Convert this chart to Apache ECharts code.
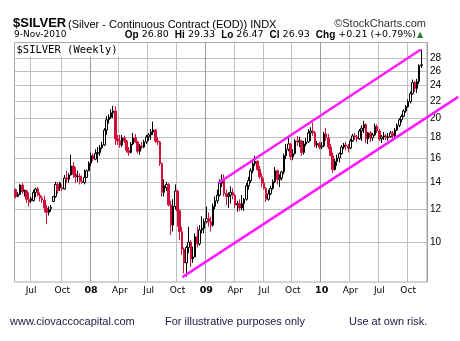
<!DOCTYPE html>
<html><head><meta charset="utf-8">
<script src="https://cdn.jsdelivr.net/npm/echarts@6/dist/echarts.min.js"></script>
<style>html,body{margin:0;padding:0;background:#fff}#c{width:460px;height:341px}</style>
</head><body><div id="c"></div>
<script>
// ---- data (weekly bars, week starting Monday) ----
const firstWeek = [2007, 4, 7];   // 7 May 2007
const weekCount = 186;            // 184 bars + 2 empty weeks of right padding
const open = [
13.40,12.90,13.05,13.75,13.35,13.30,12.70,12.75,12.60,13.20,13.45,13.00,12.80,12.65,12.10,11.80,12.05,12.55,12.90,13.80,
13.90,13.55,13.45,14.30,14.20,14.55,15.30,14.60,14.40,14.45,14.05,13.95,14.35,14.90,15.55,16.20,15.90,16.40,16.50,16.95,
17.20,18.70,19.80,20.10,20.60,20.80,17.80,17.60,17.20,17.90,17.60,16.70,16.50,17.30,17.90,17.50,16.60,17.10,17.00,17.50,
18.00,18.20,18.50,18.70,17.60,17.50,15.50,13.20,13.55,13.80,12.30,11.00,12.20,13.30,11.90,10.60,9.60,8.90,9.70,10.00,
9.10,9.20,10.30,9.90,10.70,10.80,11.20,11.40,11.20,11.00,12.20,12.60,13.00,13.90,14.20,13.10,12.90,13.00,13.20,13.00,
12.30,12.40,12.10,12.40,12.70,13.70,14.10,14.90,15.50,15.70,15.00,14.40,13.90,13.50,12.70,13.10,13.50,14.00,14.90,14.20,
14.30,14.80,16.20,16.80,17.30,16.10,16.40,17.60,17.50,17.60,16.50,17.30,17.50,18.40,18.60,18.40,17.20,17.35,17.00,17.10,
18.30,17.90,17.00,16.20,15.00,15.70,16.00,16.40,17.00,17.20,17.10,16.90,17.60,18.10,18.00,17.80,18.60,18.90,19.30,17.80,
18.40,17.90,18.20,19.10,18.60,17.80,18.00,18.10,17.90,18.00,18.40,18.10,18.70,19.20,19.80,20.20,20.80,21.30,21.90,22.90,
24.40,23.60,24.50,26.80];
const high = [
13.50,13.20,13.85,13.90,13.40,13.40,13.20,12.90,13.40,13.55,13.60,13.20,12.95,12.95,12.30,12.20,12.30,12.95,14.00,14.00,
14.00,13.80,14.55,14.90,14.70,16.30,15.65,15.20,14.90,14.70,14.50,15.00,15.00,15.70,16.50,16.40,16.80,17.00,17.20,17.50,
18.90,20.20,20.40,21.00,21.40,21.35,18.20,18.20,18.20,18.10,17.70,17.00,17.50,18.40,18.30,17.60,17.30,17.50,17.70,18.20,
18.40,18.80,19.60,18.80,18.00,17.60,15.60,14.20,14.00,13.90,12.60,12.70,13.80,13.40,12.00,10.90,9.70,9.80,10.90,10.10,
9.75,10.50,10.90,11.00,11.55,11.40,12.20,11.80,11.50,12.40,12.90,13.40,14.20,14.60,14.60,13.40,13.20,13.65,13.50,13.10,
12.60,12.70,13.00,12.80,13.90,14.40,15.10,15.70,16.20,15.80,15.30,14.70,14.30,13.60,13.40,13.70,14.20,15.20,15.00,14.60,
14.90,16.40,17.30,17.90,17.40,16.80,17.80,18.10,18.00,17.70,17.60,17.90,18.80,19.00,19.50,18.60,17.60,17.50,17.50,18.50,
18.90,18.30,17.30,16.50,15.90,16.30,16.50,17.20,17.40,17.50,17.30,17.80,18.30,18.40,18.20,18.80,19.20,19.70,19.40,18.50,
18.60,18.40,19.40,19.30,18.80,18.20,18.50,18.30,18.40,18.60,18.60,18.90,19.40,20.00,20.40,21.00,21.50,22.20,23.20,24.80,
24.60,24.90,27.00,29.33];
const low = [
12.75,12.85,13.00,13.10,12.90,12.45,12.20,12.45,12.55,12.85,12.90,12.55,12.45,11.80,11.05,11.60,11.85,12.50,12.80,13.10,
13.30,13.30,13.40,13.90,13.95,14.50,14.30,13.90,14.00,13.80,13.85,13.80,14.30,14.85,15.30,15.70,15.80,15.60,16.20,16.80,
17.10,18.20,19.40,19.90,20.00,17.20,17.20,16.95,17.00,17.40,16.50,16.20,16.40,17.20,17.40,16.40,16.30,16.80,16.90,17.30,
17.60,17.70,18.20,17.40,17.20,15.30,12.90,12.90,13.30,12.20,10.40,10.60,12.00,10.90,10.10,9.30,8.40,8.25,9.40,8.70,
8.90,9.20,9.70,9.80,10.50,10.50,11.10,10.90,10.60,10.90,12.00,12.40,12.90,13.60,12.90,12.30,12.10,12.40,12.70,12.10,
11.85,11.90,11.95,11.90,12.60,13.40,13.90,14.70,15.30,14.90,14.20,13.60,13.40,12.50,12.60,13.00,13.40,13.90,13.80,13.60,
14.10,14.60,15.90,16.60,15.80,15.80,16.30,17.10,17.00,16.20,16.30,17.10,17.40,17.60,18.10,17.00,16.90,16.80,16.80,17.00,
17.60,16.80,16.20,14.70,14.90,15.30,15.60,16.30,16.80,16.70,16.50,16.80,17.50,17.70,17.50,17.70,17.60,18.40,17.40,17.30,
17.50,17.60,18.10,18.40,17.60,17.40,17.70,17.70,17.60,17.90,17.90,18.00,18.60,19.00,19.50,20.10,20.60,21.20,21.70,22.80,
23.10,23.00,24.20,26.47];
const close = [
12.90,13.05,13.75,13.25,13.30,12.70,12.50,12.60,13.20,13.45,13.00,12.80,12.65,12.10,11.80,12.00,12.15,12.90,13.80,13.35,
13.55,13.45,14.30,14.20,14.55,15.30,14.60,14.40,14.45,14.05,13.95,14.35,14.90,15.55,16.20,15.90,16.40,16.50,16.95,17.20,
18.70,19.80,20.10,20.60,20.80,17.80,17.60,17.20,17.90,17.60,16.70,16.50,17.30,17.90,17.50,16.60,17.10,17.00,17.50,18.00,
18.20,18.50,18.70,17.60,17.50,15.50,13.20,13.70,13.80,12.30,11.00,12.20,13.30,11.90,10.60,9.60,8.90,9.70,10.00,9.10,
9.20,10.30,9.90,10.70,10.80,11.20,11.40,11.20,11.00,12.20,12.60,13.00,13.90,14.20,13.10,12.90,13.00,13.20,13.00,12.30,
12.40,12.10,12.40,12.70,13.70,14.10,14.90,15.50,15.70,15.00,14.40,13.90,13.50,12.70,13.10,13.50,14.00,14.90,14.20,14.30,
14.80,16.20,16.80,17.30,16.10,16.40,17.60,17.50,17.60,16.50,17.30,17.50,18.40,18.60,18.40,17.20,17.35,17.00,17.10,18.30,
17.90,17.00,16.20,15.00,15.70,16.00,16.40,17.00,17.20,17.10,16.90,17.60,18.10,18.00,17.80,18.60,18.90,19.30,17.80,18.40,
17.90,18.20,19.10,18.60,17.80,18.00,18.10,17.90,18.00,18.40,18.10,18.70,19.20,19.80,20.20,20.80,21.30,21.90,22.90,24.40,
23.60,24.50,26.80,26.93];
const yTicks = [10, 12, 14, 16, 18, 20, 22, 24, 26, 28];
const xTickLabels = ['Jul','Oct','08','Apr','Jul','Oct','09','Apr','Jul','Oct','10','Apr','Jul','Oct'];
// channel lines: [week index, price] at each end
const upperChannel = [[91.4, 13.91], [182.7, 29.33]];
const lowerChannel = [[75.2, 8.22], [199.6, 22.51]];

// ---- categories: weekly dates ----
const weeks = [];
const t0 = Date.UTC(firstWeek[0], firstWeek[1], firstWeek[2]);
for (let i = 0; i < weekCount; i++) weeks.push(new Date(t0 + i * 7 * 86400000).toISOString().slice(0, 10));
const quarterLabel = {};
let qk = 0;
weeks.forEach((w, i) => {
  const d0 = Date.parse(w + 'T00:00:00Z');
  for (let k = 0; k < 7; k++) {
    const d = new Date(d0 + k * 86400000);
    if (d.getUTCDate() === 1 && d.getUTCMonth() % 3 === 0) { quarterLabel[i] = xTickLabels[qk++]; break; }
  }
});
const isQ = (i) => quarterLabel[i] !== undefined;
const isYear = (i) => isQ(i) && /^\d/.test(quarterLabel[i]);

const RED = '#d0103a', BLACK = '#000000';
const candles = open.map((o, i) => {
  const prev = i ? close[i - 1] : o;
  const col = close[i] < prev ? RED : BLACK;
  const fill = close[i] > o ? '#ffffff' : col;
  return { value: [o, close[i], low[i], high[i]],
    itemStyle: { color: fill, color0: fill, borderColor: col, borderColor0: col } };
});

const W = 460;
const GL = 14.5, GT = 42.5, GW = 412.5, GH = 239.5;
const OW = W - GL;                               // overlay grid runs to the page edge
const overlayMax = -0.5 + OW * weekCount / GW;   // same px-per-week as the price grid
const YMIN = 8, YMAX = 30.5;
const chart = echarts.init(document.getElementById('c'), null, { renderer: 'canvas' });
const F = 'Liberation Sans, Arial, sans-serif';
const V = 'DejaVu Sans, Verdana, sans-serif';
const GRIDC = '#c0c0c0';
chart.setOption({
  animation: false,
  backgroundColor: '#ffffff',
  grid: [
    { left: GL, top: GT, width: GW, height: GH, show: true, borderColor: '#a8a8a8', borderWidth: 1 },
    { left: GL, top: GT, width: OW, height: GH, show: false }
  ],
  xAxis: [{
    type: 'category', data: weeks, boundaryGap: true, gridIndex: 0, position: 'bottom',
    axisLine: { show: false },
    axisTick: { show: false, interval: isQ },
    axisLabel: {
      interval: isQ, margin: 4, fontSize: 9, fontFamily: V, color: '#000',
      formatter: (v, i) => { const l = quarterLabel[i] || ''; return /^\d/.test(l) ? '{b|' + l + '}' : l; },
      rich: { b: { fontWeight: 'bold', fontSize: 9.5, fontFamily: V, color: '#000' } }
    },
    splitLine: { show: true, interval: (i) => isQ(i) && !isYear(i), lineStyle: { color: GRIDC, width: 1 } }
  }, {
    type: 'value', gridIndex: 1, min: -0.5, max: overlayMax, show: false
  }, {
    // year separators (darker)
    type: 'category', data: weeks, boundaryGap: true, gridIndex: 0, position: 'top',
    axisLine: { show: false }, axisTick: { show: false }, axisLabel: { show: false },
    splitLine: { show: true, interval: isYear, lineStyle: { color: '#9c9c9c', width: 1 } }
  }],
  yAxis: [{
    type: 'log', logBase: 10, min: YMIN, max: YMAX, position: 'right', gridIndex: 0,
    axisLine: { show: false },
    axisTick: { show: false, customValues: yTicks },
    axisLabel: { customValues: yTicks, margin: 3, fontSize: 10, fontFamily: F, color: '#000', formatter: v => String(Math.round(v)) },
    splitLine: { show: false }
  }, {
    type: 'log', logBase: 10, min: YMIN, max: YMAX, gridIndex: 1, show: false
  }, {
    // horizontal price grid: same log scale expressed in log10 units
    type: 'value', gridIndex: 0, position: 'left', min: Math.log10(YMIN), max: Math.log10(YMAX),
    axisLine: { show: false }, axisLabel: { show: false },
    axisTick: { show: false, customValues: yTicks.map(v => Math.log10(v)) },
    splitLine: { show: true, lineStyle: { color: GRIDC, width: 1 } }
  }],
  series: [
    { type: 'candlestick', data: candles, barWidth: 2, itemStyle: { borderWidth: 1 }, z: 2 },
    { type: 'line', data: upperChannel, xAxisIndex: 1, yAxisIndex: 1, symbol: 'none', clip: false, silent: true, z: 5,
      lineStyle: { color: '#ff1aff', width: 2.5 } },
    { type: 'line', data: lowerChannel, xAxisIndex: 1, yAxisIndex: 1, symbol: 'none', clip: false, silent: true, z: 5,
      lineStyle: { color: '#ff1aff', width: 2.5 } }
  ],
  graphic: [
    { type: 'text', left: 13, top: 17, style: { text: '$SILVER', font: 'bold 13px ' + F, fill: '#000' } },
    { type: 'text', left: 68, top: 19, style: { text: '(Silver - Continuous Contract (EOD)) INDX', font: '11px ' + F, fill: '#000' } },
    { type: 'text', right: 34, top: 18, style: { text: '\u00A9StockCharts.com', font: '11px ' + F, fill: '#333' } },
    { type: 'text', left: 14, top: 30, style: { text: '9-Nov-2010', font: '9px ' + V, fill: '#000' } },
    { type: 'text', right: 44, top: 30, style: {
        text: '{b|Op} 26.80  {b|Hi} 29.33  {b|Lo} 26.47  {b|Cl} 26.93  {b|Chg} +0.21 (+0.79%)',
        font: '9.5px ' + V, fill: '#000',
        rich: { b: { font: 'bold 10px ' + F, fill: '#000' } } } },
    { type: 'text', left: 417, top: 31, style: { text: '\u25B2', font: '8px ' + V, fill: '#2e7d32' } },
    { type: 'text', left: 15.5, top: 43.5, z: 10, style: { text: '$SILVER (Weekly)', font: '10.5px DejaVu Sans Mono, monospace', fill: '#000', backgroundColor: '#fff', padding: [1, 1, 1, 1] } },
    { type: 'text', left: 10, top: 316, style: { text: 'www.ciovaccocapital.com', font: '11px ' + F, fill: '#1a1a40' } },
    { type: 'text', left: 165, top: 316, style: { text: 'For illustrative purposes only', font: '11px ' + F, fill: '#1a1a40' } },
    { type: 'text', left: 349, top: 316, style: { text: 'Use at own risk.', font: '11px ' + F, fill: '#1a1a40' } }
  ]
});
</script></body></html>
